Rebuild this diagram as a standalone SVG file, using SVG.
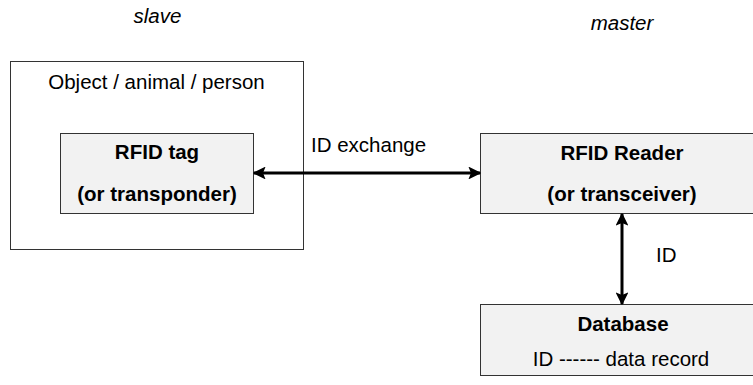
<svg xmlns="http://www.w3.org/2000/svg" width="753" height="385" viewBox="0 0 753 385">
<style>
text{font-family:"Liberation Sans",Arial,sans-serif;font-size:20.5px;fill:#000}
.b{font-weight:bold;font-size:20.5px}
.i{font-style:italic}
.box{fill:#f2f2f2;stroke:#333;stroke-width:1}
.outer{fill:#fff;stroke:#333;stroke-width:1}
.conn{stroke:#000;stroke-width:3;fill:none}
</style>
<defs>
<marker id="ah" viewBox="0 0 10 10" refX="9" refY="5" markerWidth="4.3" markerHeight="4.3" orient="auto-start-reverse" markerUnits="strokeWidth">
<path d="M0,0 L10,5 L0,10 L2,5 Z" fill="#000"/>
</marker>
</defs>
<rect width="753" height="385" fill="#fff"/>
<text class="i" x="157.5" y="23" text-anchor="middle">slave</text>
<text class="i" x="622" y="30" text-anchor="middle">master</text>
<g id="object">
<rect class="outer" x="10.5" y="61.5" width="293" height="188"/>
<text x="156.5" y="89" text-anchor="middle">Object / animal / person</text>
</g>
<g id="tag">
<rect class="box" x="60.5" y="133.5" width="193" height="80"/>
<text class="b" x="157" y="159" text-anchor="middle">RFID tag</text>
<text class="b" x="157" y="201" text-anchor="middle">(or transponder)</text>
</g>
<g id="reader">
<rect class="box" x="480.5" y="133.5" width="284" height="80"/>
<text class="b" x="622" y="160" text-anchor="middle">RFID Reader</text>
<text class="b" x="622" y="201" text-anchor="middle">(or transceiver)</text>
</g>
<g id="database">
<rect class="box" x="480.5" y="304.5" width="284" height="71"/>
<text class="b" x="623" y="331" text-anchor="middle">Database</text>
<text x="621" y="366" text-anchor="middle">ID ------ data record</text>
</g>
<g id="connectors">
<line class="conn" x1="254" y1="173" x2="480" y2="173" marker-start="url(#ah)" marker-end="url(#ah)"/>
<text x="311" y="152">ID exchange</text>
<line class="conn" x1="622" y1="214" x2="622" y2="304" marker-start="url(#ah)" marker-end="url(#ah)"/>
<text x="656" y="262">ID</text>
</g>
</svg>
